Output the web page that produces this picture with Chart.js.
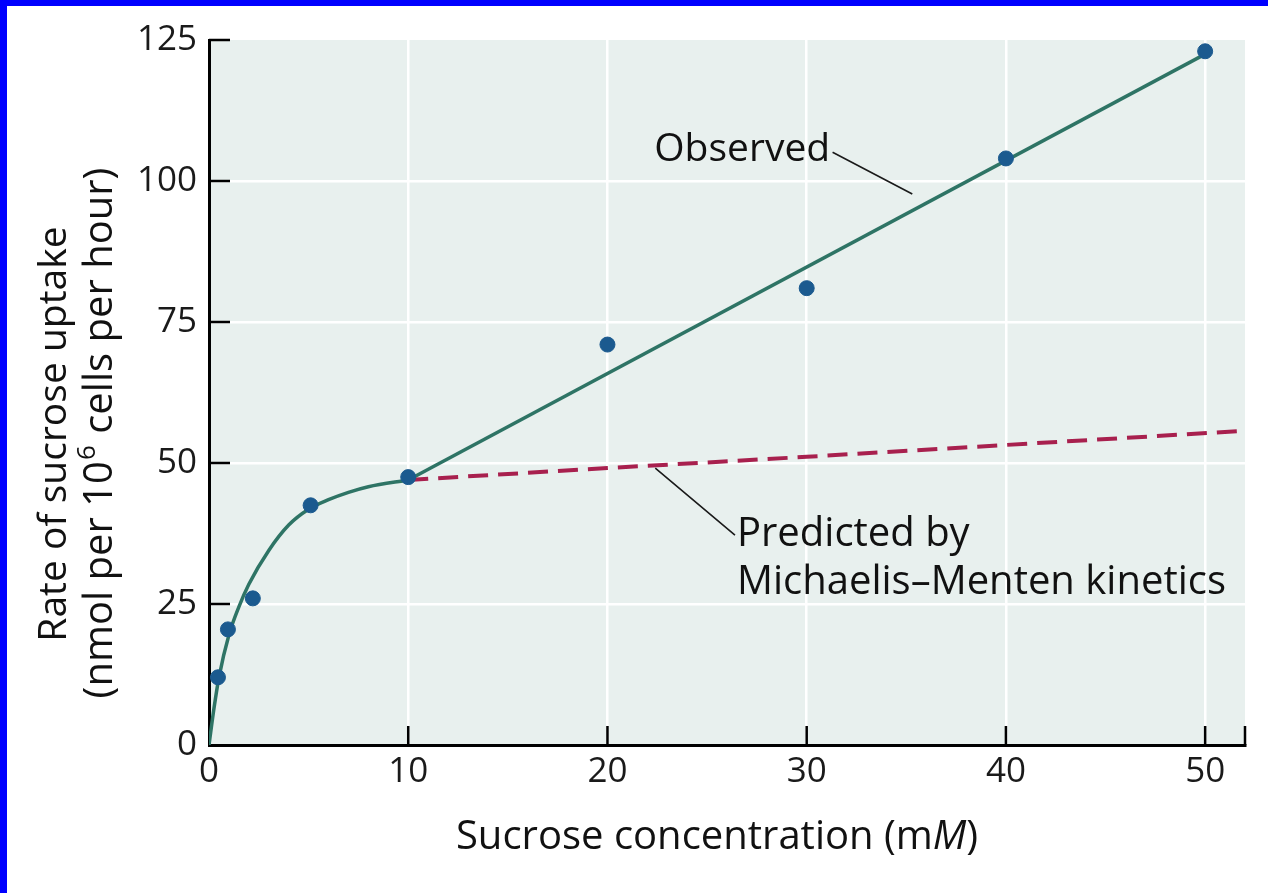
<!DOCTYPE html>
<html>
<head>
<meta charset="utf-8">
<script src="https://cdn.jsdelivr.net/npm/chart.js@4.4.1/dist/chart.umd.min.js"></script>
<style>
  html, body { margin: 0; padding: 0; background: #fff; }
  #frame { width: 1261px; height: 887px; border-top: 6px solid #0000ff; border-left: 7px solid #0000ff; }
  canvas { display: block; }
</style>
</head>
<body>
<div id="frame"><canvas id="myChart" width="1261" height="887"></canvas></div>
<script>
// measured points
const conc = [0.45, 0.95, 2.2, 5.1, 10, 20, 30, 40, 50];
const uptake = [12, 20.5, 26, 42.5, 47.5, 71, 81, 104, 123];

// observed fit: curved part up to 10 mM, then straight
const curveX = [0, 0.25, 0.5, 1, 1.5, 2, 3, 4, 5, 6, 7, 8, 10];
const curveY = [0, 6.5, 12, 19.5, 24.5, 28.5, 34.5, 39, 41.8, 43.5, 44.8, 45.8, 47];
const lineX = [10, 50];
const lineY = [47, 122.5];

// Michaelis-Menten prediction
const mmX = [10, 20, 30, 40, 52];
const mmY = [47, 49.1, 51.1, 53.2, 55.7];

const xTicks = [0, 10, 20, 30, 40, 50];
const yTicks = [0, 25, 50, 75, 100, 125];

const xTitle = ["Sucrose concentration (m", "M", ")"];
const yTitle1 = "Rate of sucrose uptake";
const yTitle2 = ["(nmol per 10", "6", " cells per hour)"];

const labelObserved = "Observed";
const labelPredicted = ["Predicted by", "Michaelis\u2013Menten kinetics"];

function pts(xs, ys) {
  const out = [];
  for (let i = 0; i < xs.length; i++) out.push({x: xs[i], y: ys[i]});
  return out;
}

const FONT = '"Open Sans", sans-serif';

const extras = {
  id: 'extras',
  beforeDraw(chart) {
    const ctx = chart.ctx, a = chart.chartArea;
    ctx.save();
    ctx.fillStyle = '#e8f0ee';
    ctx.fillRect(a.left, a.top, a.right - a.left, a.bottom - a.top);
    ctx.restore();
  },
  afterDraw(chart) {
    const ctx = chart.ctx, a = chart.chartArea;
    const xs = chart.scales.x, ys = chart.scales.y;
    ctx.save();
    // inward ticks
    ctx.strokeStyle = '#000';
    ctx.lineWidth = 2.5;
    ctx.beginPath();
    yTicks.forEach(v => {
      if (v === 0) return;
      const py = ys.getPixelForValue(v);
      ctx.moveTo(a.left, py); ctx.lineTo(a.left + 21, py);
    });
    xTicks.concat([xs.max]).forEach(v => {
      if (v === 0) return;
      const px = xs.getPixelForValue(v);
      ctx.moveTo(px, a.bottom); ctx.lineTo(px, a.bottom - 19);
    });
    ctx.stroke();

    // leader lines
    ctx.lineWidth = 1.6;
    ctx.strokeStyle = '#1a1a1a';
    ctx.beginPath();
    ctx.moveTo(xs.getPixelForValue(31.3), ys.getPixelForValue(105.1));
    ctx.lineTo(xs.getPixelForValue(35.3), ys.getPixelForValue(97.7));
    ctx.moveTo(xs.getPixelForValue(22.4), ys.getPixelForValue(49.1));
    ctx.lineTo(xs.getPixelForValue(26.4), ys.getPixelForValue(37.2));
    ctx.stroke();

    // annotation text
    ctx.fillStyle = '#111';
    ctx.font = '39px ' + FONT;
    ctx.textBaseline = 'middle';
    ctx.textAlign = 'left';
    ctx.fillText(labelObserved, xs.getPixelForValue(22.35), ys.getPixelForValue(105.6));
    ctx.font = '40px ' + FONT;
    ctx.fillText(labelPredicted[0], xs.getPixelForValue(26.5), ys.getPixelForValue(37.3));
    ctx.fillText(labelPredicted[1], xs.getPixelForValue(26.5), ys.getPixelForValue(28.8));

    // x axis title with italic M
    const normal = '40px ' + FONT, italic = 'italic 40px ' + FONT;
    ctx.font = normal; const w0 = ctx.measureText(xTitle[0]).width;
    ctx.font = italic; const w1 = ctx.measureText(xTitle[1]).width;
    ctx.font = normal; const w2 = ctx.measureText(xTitle[2]).width;
    let tx = (a.left + a.right) / 2 - 10 - (w0 + w1 + w2) / 2;
    const ty = a.bottom + 93;
    ctx.font = normal; ctx.fillText(xTitle[0], tx, ty); tx += w0;
    ctx.font = italic; ctx.fillText(xTitle[1], tx, ty); tx += w1;
    ctx.font = normal; ctx.fillText(xTitle[2], tx, ty);

    // y axis title, rotated, two lines
    const cy = 428;
    ctx.translate(48, cy);
    ctx.rotate(-Math.PI / 2);
    ctx.textAlign = 'center';
    ctx.font = '39px ' + FONT;
    ctx.fillText(yTitle1, 0, 0);
    ctx.textAlign = 'left';
    ctx.font = '40px ' + FONT;
    const s0 = ctx.measureText(yTitle2[0]).width;
    ctx.font = '26px ' + FONT;
    const s1 = ctx.measureText(yTitle2[1]).width;
    ctx.font = '40px ' + FONT;
    const s2 = ctx.measureText(yTitle2[2]).width;
    let lx = -(s0 + s1 + s2) / 2;
    const ly = 46;
    ctx.fillText(yTitle2[0], lx, ly); lx += s0;
    ctx.font = '26px ' + FONT;
    ctx.fillText(yTitle2[1], lx + 1, ly - 13); lx += s1 + 2;
    ctx.font = '40px ' + FONT;
    ctx.fillText(yTitle2[2], lx, ly);
    ctx.restore();
  }
};

new Chart("myChart", {
  type: "scatter",
  data: {
    datasets: [
      {
        type: "line",
        data: pts(mmX, mmY),
        borderColor: "#a8204e",
        borderWidth: 4,
        borderDash: [20, 10],
        pointRadius: 0,
        fill: false,
        tension: 0,
        order: 3
      },
      {
        type: "line",
        data: pts(curveX, curveY),
        borderColor: "#2e7465",
        borderWidth: 3.5,
        pointRadius: 0,
        fill: false,
        cubicInterpolationMode: "monotone",
        order: 2
      },
      {
        type: "line",
        data: pts(lineX, lineY),
        borderColor: "#2e7465",
        borderWidth: 3.5,
        pointRadius: 0,
        fill: false,
        tension: 0,
        order: 2
      },
      {
        data: pts(conc, uptake),
        backgroundColor: "#1b5a8f",
        borderColor: "#1b5a8f",
        pointRadius: 7.5,
        order: 1
      }
    ]
  },
  options: {
    responsive: false,
    animation: false,
    layout: { padding: { top: 34, right: 23, left: 0, bottom: 0 } },
    plugins: { legend: { display: false }, tooltip: { enabled: false } },
    scales: {
      x: {
        type: "linear",
        min: 0, max: 52,
        afterFit: s => { s.height = 148; },
        afterBuildTicks: s => { s.ticks = xTicks.map(v => ({value: v})); },
        ticks: { padding: 6, color: "#1a1a1a", font: { family: FONT, size: 35 } },
        grid: { color: "#ffffff", lineWidth: 2.5, drawTicks: false },
        border: { color: "#000", width: 3 }
      },
      y: {
        min: 0, max: 125,
        afterFit: s => { s.width = 202; },
        afterBuildTicks: s => { s.ticks = yTicks.map(v => ({value: v})); },
        ticks: { padding: 12, color: "#1a1a1a", font: { family: FONT, size: 35 } },
        grid: { color: ctx => ctx.tick && ctx.tick.value === 125 ? "rgba(0,0,0,0)" : "#ffffff", lineWidth: 2.5, drawTicks: false },
        border: { color: "#000", width: 3 }
      }
    }
  },
  plugins: [extras]
});
</script>
</body>
</html>
